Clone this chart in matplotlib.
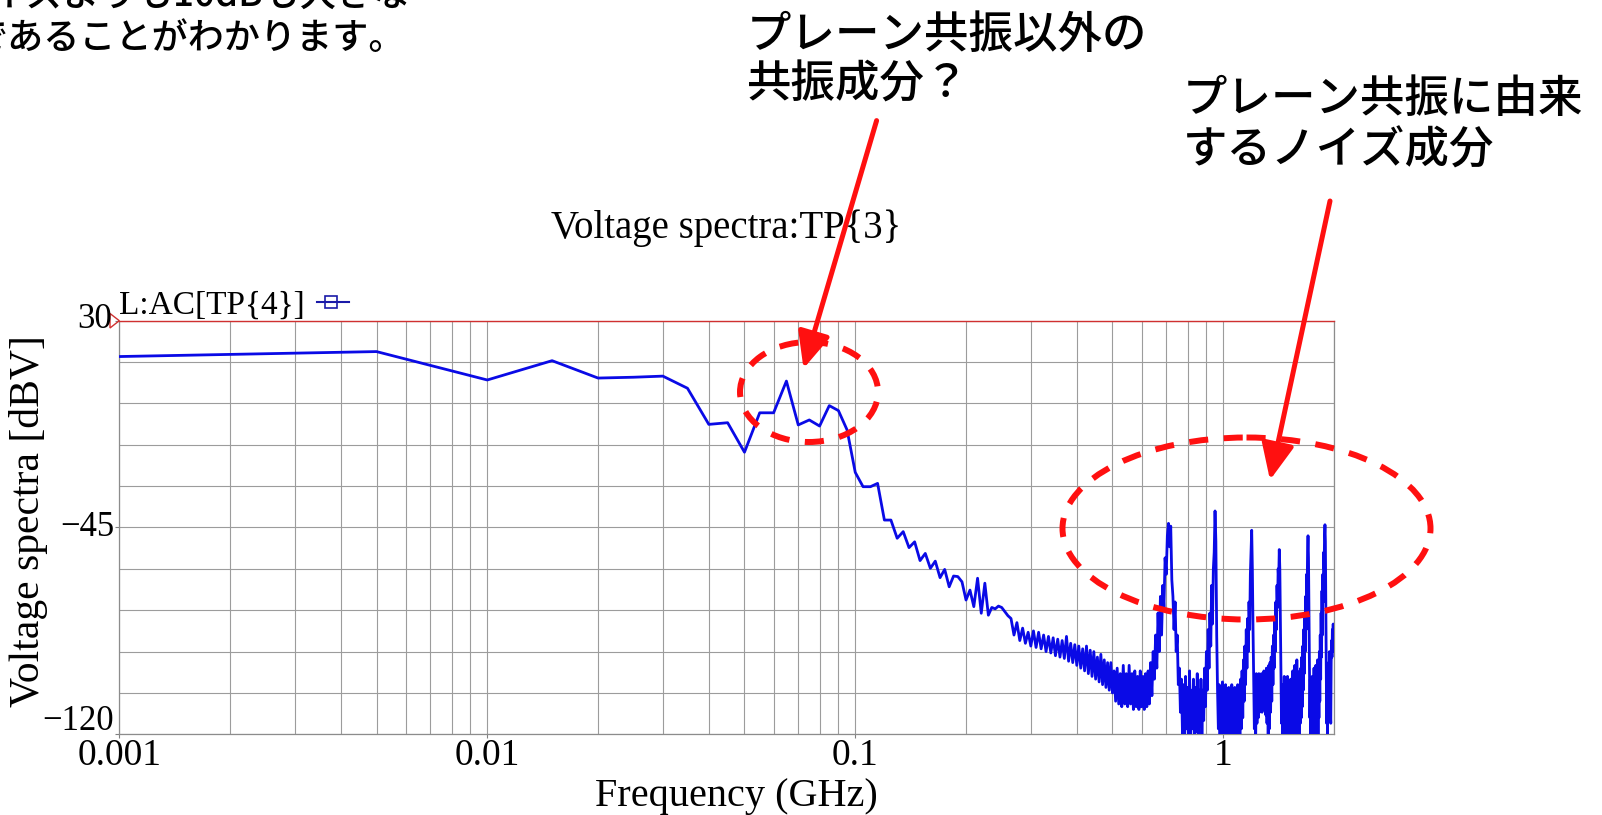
import numpy as np
import matplotlib
matplotlib.use("Agg")
import matplotlib.pyplot as plt
from matplotlib.patches import Ellipse, FancyArrowPatch, Polygon, ArrowStyle
from matplotlib.ticker import FixedLocator, FixedFormatter, LogLocator, MultipleLocator, NullFormatter

# ---------------------------------------------------------------- data ----
# Sweep: one point at 1 MHz, then a 5 MHz grid from 5 MHz up to 2 GHz.
first_freq_ghz = 0.001
first_dbv = 17.0
step_mhz = 5

dbv_5_100 = [18.8, 8.5, 15.5, 9.2, 9.5, 9.9, 5.5, -7.6, -7.0, -17.7,
             -3.4, -3.4, 8.1, -7.8, -6.0, -8.2, -0.8, -2.6, -9.6, -25.0]

dbv_105_300 = [-30.2, -30.2, -29.0, -42.3, -42.3, -48.9, -46.5, -52.3, -50.2, -57.0,
               -54.4, -59.8, -57.2, -63.2, -60.2, -66.5, -62.6, -62.8, -64.7, -71.3,
               -67.7, -73.7, -63.4, -76.1, -65.2, -76.8, -74.0, -74.5, -73.5, -74.0,
               -75.5, -77.0, -78.0, -84.0, -79.5, -86.0, -81.5, -87.0, -83.0, -88.0]

dbv_305_500 = [-82.5, -88.5, -83.0, -89.0, -84.0, -90.0, -84.5, -90.5, -85.0, -91.5,
               -85.5, -92.0, -86.0, -92.5, -84.5, -93.5, -87.0, -94.0, -87.5, -95.0,
               -88.0, -96.0, -89.0, -97.0, -88.0, -98.0, -89.5, -99.0, -90.0, -100.0,
               -92.0, -101.0, -91.0, -102.0, -93.0, -103.0, -94.0, -104.0, -94.0, -105.0]

dbv_505_760 = [-97, -108, -96, -109, -98, -110, -95, -109, -98, -110,
               -95, -109, -98, -111, -97, -110, -99, -111, -97, -110,
               -99, -111, -98, -110, -97, -109, -94, -106, -90, -100,
               -84, -96, -76, -90, -70, -84, -66, -74, -56, -62,
               -48, -43.5, -52, -44.5, -64, -70, -82, -72, -90, -84,
               -102, -96]

dbv_765_970 = [-112, -100, -120, -102, -124, -99, -118, -103, -125, -97,
               -121, -104, -118, -100, -125, -103, -119, -98, -124, -104,
               -117, -100, -123, -104, -115, -96, -110, -90, -104, -82,
               -96, -76, -88, -66, -80, -60, -54, -39, -50, -84,
               -104, -118]

dbv_975_1210 = [-102, -122, -104, -125, -101, -121, -106, -126, -102, -120,
                -107, -125, -103, -121, -106, -126, -102, -120, -107, -124,
                -103, -121, -108, -125, -102, -120, -106, -123, -100, -118,
                -97, -114, -93, -108, -88, -102, -82, -96, -78, -90,
                -72, -82, -62, -54, -46, -60, -82, -100]

dbv_1215_1440 = [-118, -104, -122, -98, -116, -100, -114, -98, -112, -99,
                 -111, -98, -112, -99, -110, -97, -111, -98, -113, -96,
                 -116, -98, -121, -95, -118, -94, -112, -92, -108, -88,
                 -102, -84, -96, -78, -90, -72, -82, -66, -74, -60,
                 -64, -53, -60, -80, -100, -116]

dbv_1445_1720 = [-102, -123, -104, -120, -99, -125, -103, -119, -106, -126,
                 -99, -121, -102, -126, -105, -119, -100, -124, -104, -120,
                 -97, -125, -103, -116, -95, -122, -101, -118, -93, -121,
                 -99, -115, -102, -124, -97, -116, -96, -114, -92, -110,
                 -88, -104, -82, -98, -76, -90, -70, -82, -62, -70,
                 -54, -48, -56, -76, -98, -114]

dbv_1725_1910 = [-100, -123, -104, -120, -99, -126, -103, -119, -96, -124,
                 -102, -120, -95, -122, -99, -116, -93, -120, -96, -114,
                 -90, -108, -84, -100, -76, -92, -68, -84, -62, -72,
                 -54, -60, -48, -44, -50, -74, -98, -116]

dbv_1915_2000 = [-102, -120, -98, -114, -94, -108, -90, -114, -112, -116,
                 -94, -86, -92, -82, -88, -80, -90, -81]

segment_start_mhz = [5, 105, 305, 505, 765, 975, 1215, 1445, 1725, 1915]
segment_values = [dbv_5_100, dbv_105_300, dbv_305_500, dbv_505_760, dbv_765_970,
                  dbv_975_1210, dbv_1215_1440, dbv_1445_1720, dbv_1725_1910,
                  dbv_1915_2000]

x_tick_values = [0.001, 0.01, 0.1, 1]
x_tick_labels = ["0.001", "0.01", "0.1", "1"]
y_tick_values = [30, -45, -120]
y_tick_labels = ["30", "\u221245", "\u2212120"]

# assemble the sweep
freq = [first_freq_ghz]
dbv = [first_dbv]
for start, vals in zip(segment_start_mhz, segment_values):
    freq.extend((start + step_mhz * np.arange(len(vals))) / 1000.0)
    dbv.extend(vals)
freq = np.array(freq)
dbv = np.array(dbv, dtype=float)

# ---------------------------------------------------------------- style ---
W, H = 1602, 815
SERIF = ["Liberation Serif", "DejaVu Serif"]
JP = ["Noto Sans CJK JP", "DejaVu Sans"]
plt.rcParams["font.family"] = SERIF

GRID = "#9c9c9c"
BLUE = "#0a0ae6"
RED = "#ff1010"

fig = plt.figure(figsize=(W / 100, H / 100), dpi=100)
fig.patch.set_facecolor("white")

# plot area in pixel units (left, top, right, bottom)
L, T, R, B = 119.3, 320.7, 1334.0, 734.3
ax = fig.add_axes([L / W, (H - B) / H, (R - L) / W, (B - T) / H])

ax.plot(freq, dbv, color=BLUE, lw=2.0, zorder=3)

ax.set_xscale("log")
ax.set_xlim(0.001, 2.0)
ax.set_ylim(-120, 30)

ax.xaxis.set_major_locator(FixedLocator(x_tick_values))
ax.xaxis.set_major_formatter(FixedFormatter(x_tick_labels))
ax.xaxis.set_minor_locator(LogLocator(base=10, subs=np.arange(2, 10), numticks=20))
ax.xaxis.set_minor_formatter(NullFormatter())
ax.yaxis.set_major_locator(FixedLocator(y_tick_values))
ax.yaxis.set_minor_locator(MultipleLocator(15))

ax.grid(which="both", color=GRID, lw=0.8, zorder=1)
ax.tick_params(which="minor", length=0)
ax.tick_params(which="major", length=3, width=0.8, color="#808080",
               labelsize=27, pad=0)
ax.tick_params(axis="y", labelleft=False)

for side in ("left", "bottom", "right"):
    ax.spines[side].set_color("#8c8c8c")
    ax.spines[side].set_linewidth(0.9)
ax.spines["top"].set_color("#d03030")
ax.spines["top"].set_linewidth(1.0)

# overlay in pixel coordinates for labels and callouts
ov = fig.add_axes([0, 0, 1, 1], zorder=5)
ov.set_xlim(0, W)
ov.set_ylim(H, 0)
ov.axis("off")

# y tick labels (the lowest one is lifted clear of the x tick label)
y_label_pos = {30: (112, 320), -45: (114, 528), -120: (114, 722)}
for val, txt in zip(y_tick_values, y_tick_labels):
    xp, yp = y_label_pos[val]
    ov.text(xp, yp, txt, fontsize=25, ha="right", va="center", family=SERIF)

ov.text(726, 238, "Voltage spectra:TP{3}", fontsize=28, ha="center", va="baseline",
        family=SERIF)
ov.text(29, 521, "Voltage spectra [dBV]", fontsize=30, rotation=90,
        ha="center", va="center", family=SERIF)
ov.text(736, 806, "Frequency (GHz)", fontsize=29, ha="center", va="baseline",
        family=SERIF)

# legend entry
ov.text(119.5, 314, "L:AC[TP{4}]", fontsize=24, ha="left", va="baseline", family=SERIF)
ov.plot([317, 349], [302, 302], color="#1a1aa8", lw=1.5)
ov.plot([331], [302], marker="s", ms=9, mfc="none", mec="#1a1aa8", mew=1.2)

# reference marker at the top of the y axis
ov.add_patch(Polygon([(110, 313.5), (119.3, 320.7), (110, 328)], closed=True,
                     fill=False, edgecolor="#d03030", lw=1.0))

# explanatory text
ov.text(-121, -5, "共振ノイズよりも10dBも大きな", fontsize=26.5, ha="left",
        va="center", family=JP, fontweight="medium")
ov.text(-29, 38.5, "であることがわかります。", fontsize=26, ha="left",
        va="center", family=JP, fontweight="medium")

ov.text(747, 36, "プレーン共振以外の", fontsize=32, ha="left", va="center",
        family=JP, fontweight="medium")
ov.text(747, 85, "共振成分？", fontsize=32, ha="left", va="center",
        family=JP, fontweight="medium")
ov.text(1183, 100, "プレーン共振に由来", fontsize=32, ha="left", va="center",
        family=JP, fontweight="medium")
ov.text(1183, 151, "するノイズ成分", fontsize=32, ha="left", va="center",
        family=JP, fontweight="medium")

# dashed callout ellipses
dash = (0, (3.2, 2.6))
ov.add_patch(Ellipse((809, 392), 138, 100, fill=False, edgecolor=RED, lw=4.3,
                     linestyle=dash))
ov.add_patch(Ellipse((1246.5, 528.5), 368, 182, fill=False, edgecolor=RED, lw=4.3,
                     linestyle=dash))

# arrows
head = ArrowStyle("-|>", head_length=1.0, head_width=0.45)
ov.add_patch(FancyArrowPatch((876.6, 120.6), (803.5, 368.5), arrowstyle=head,
                             mutation_scale=22, lw=3.6, color=RED,
                             shrinkA=0, shrinkB=0))
ov.add_patch(FancyArrowPatch((1330, 201), (1270, 480), arrowstyle=head,
                             mutation_scale=22, lw=3.6, color=RED,
                             shrinkA=0, shrinkB=0))

fig.savefig("out.png", dpi=100)
